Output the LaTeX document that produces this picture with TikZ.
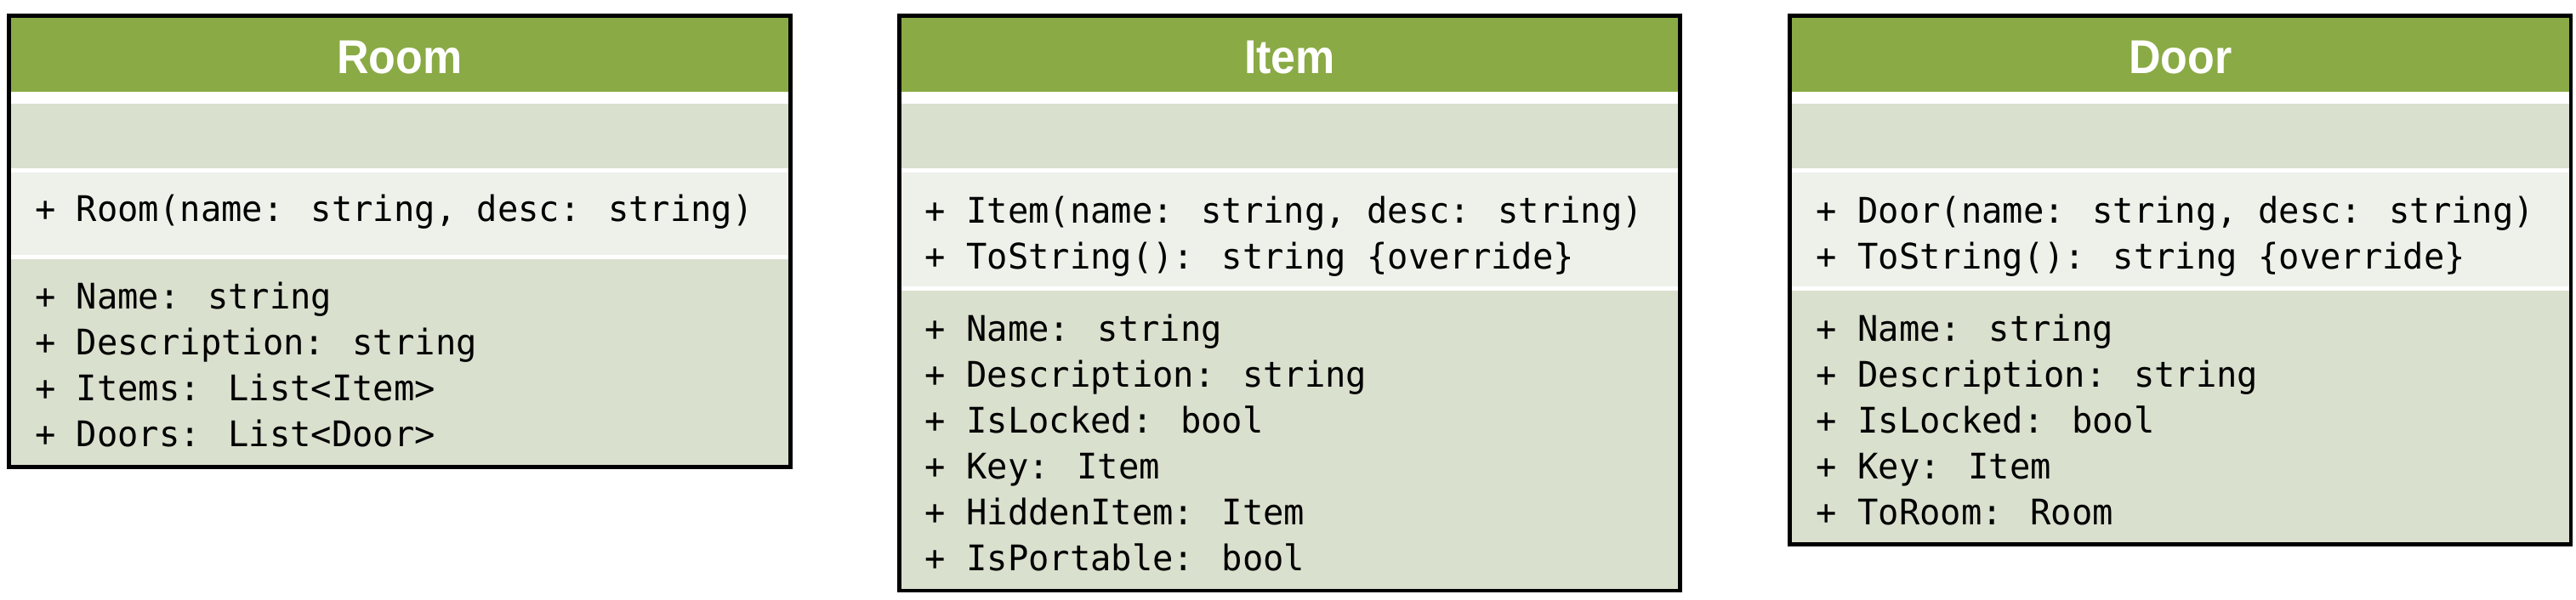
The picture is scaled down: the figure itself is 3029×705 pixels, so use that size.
\documentclass[tikz,border=0pt]{standalone}
\usepackage{fontspec}
\newfontfamily\monofont[FakeStretch=0.975]{DejaVu Sans Mono}
\newfontfamily\titlefont[FakeStretch=0.93]{Liberation Sans Bold}
\definecolor{hdrgreen}{HTML}{8AAA45}
\definecolor{secdark}{HTML}{DAE0CE}
\definecolor{seclight}{HTML}{EEF1EA}
\begin{document}
\begin{tikzpicture}[x=0.01cm,y=-0.01cm,
  member/.style={anchor=base west,inner sep=0pt,font=\monofont\fontsize{11.8pt}{15.4pt}\selectfont},
  classtitle/.style={anchor=base,inner sep=0pt,text=white,font=\titlefont\fontsize{15.9pt}{18pt}\selectfont},
  border/.style={draw=black,line width=1.3pt}]
\useasboundingbox (0,0) rectangle (3029,705);

% ---------- Room ----------
\fill[white] (10.5,18.5) rectangle (929.5,549.5);
\fill[hdrgreen] (10.5,18.5) rectangle (929.5,108);
\fill[secdark] (10.5,122) rectangle (929.5,198);
\fill[seclight] (10.5,203) rectangle (929.5,300);
\fill[secdark] (10.5,305) rectangle (929.5,549.5);
\node[classtitle] (roomtitle) at (470,86.5) {Room};
\node[member] (roomm1) at (40.5,260) {+ Room(name: string, desc: string)};
\node[member] (rooma1) at (40.5,363) {+ Name: string};
\node[member] (rooma2) at (40.5,417) {+ Description: string};
\node[member] (rooma3) at (40.5,471) {+ Items: List<Item>};
\node[member] (rooma4) at (40.5,525) {+ Doors: List<Door>};
\draw[border] (10.5,18.5) rectangle (929.5,549.5);

% ---------- Item ----------
\fill[white] (1057.5,18.5) rectangle (1975.5,695);
\fill[hdrgreen] (1057.5,18.5) rectangle (1975.5,108);
\fill[secdark] (1057.5,122) rectangle (1975.5,198);
\fill[seclight] (1057.5,203) rectangle (1975.5,337);
\fill[secdark] (1057.5,342) rectangle (1975.5,695);
\node[classtitle] (itemtitle) at (1516.5,86.5) {Item};
\node[member] (itemm1) at (1087,262) {+ Item(name: string, desc: string)};
\node[member] (itemm2) at (1087,316) {+ ToString(): string \{override\}};
\node[member] (itema1) at (1087,401) {+ Name: string};
\node[member] (itema2) at (1087,455) {+ Description: string};
\node[member] (itema3) at (1087,509) {+ IsLocked: bool};
\node[member] (itema4) at (1087,563) {+ Key: Item};
\node[member] (itema5) at (1087,617) {+ HiddenItem: Item};
\node[member] (itema6) at (1087,671) {+ IsPortable: bool};
\draw[border] (1057.5,18.5) rectangle (1975.5,695);

% ---------- Door ----------
\fill[white] (2104.5,18.5) rectangle (3023,640.5);
\fill[hdrgreen] (2104.5,18.5) rectangle (3023,108);
\fill[secdark] (2104.5,122) rectangle (3023,198);
\fill[seclight] (2104.5,203) rectangle (3023,337);
\fill[secdark] (2104.5,342) rectangle (3023,640.5);
\node[classtitle] (doortitle) at (2563.75,86.5) {Door};
\node[member] (doorm1) at (2135,262) {+ Door(name: string, desc: string)};
\node[member] (doorm2) at (2135,316) {+ ToString(): string \{override\}};
\node[member] (doora1) at (2135,401) {+ Name: string};
\node[member] (doora2) at (2135,455) {+ Description: string};
\node[member] (doora3) at (2135,509) {+ IsLocked: bool};
\node[member] (doora4) at (2135,563) {+ Key: Item};
\node[member] (doora5) at (2135,617) {+ ToRoom: Room};
\draw[border] (2104.5,18.5) rectangle (3023,640.5);
\end{tikzpicture}
\end{document}
